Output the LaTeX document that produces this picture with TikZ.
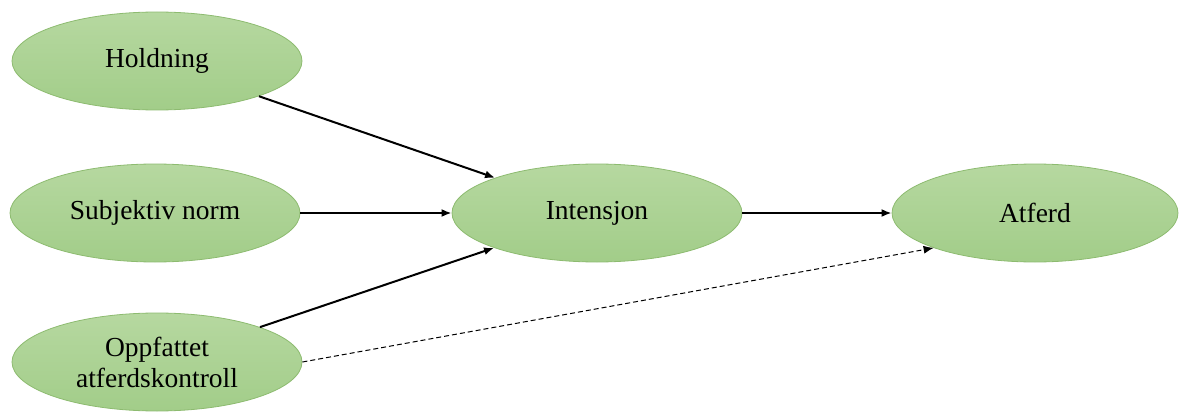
\documentclass[tikz,border=0pt]{standalone}
\usepackage{fontspec}
\setmainfont{Liberation Serif}
\usetikzlibrary{shapes.geometric,arrows.meta}
\definecolor{ovaltop}{HTML}{B6D8A0}
\definecolor{ovalbot}{HTML}{A2CD89}
\definecolor{ovalline}{HTML}{8DBB70}
\begin{document}
\begin{tikzpicture}[x=1pt,y=-1pt,
  oval/.style={ellipse, draw=ovalline, line width=0.8pt, top color=ovaltop, bottom color=ovalbot,
    minimum width=290pt, minimum height=98pt, inner sep=0pt, align=center,
    font=\fontsize{27.5}{31}\selectfont, text=black},
  link/.style={line width=2pt, -{Latex[length=10pt,width=8pt]}},
  weak/.style={line width=1pt, dashed, dash pattern=on 5pt off 3pt, -{Latex[length=10pt,width=8pt]}}]
\useasboundingbox (0,0) rectangle (1179,412);
\node[oval] (h) at (157,61) {Holdning};
\node[oval] (s) at (155,213) {Subjektiv norm};
\node[oval] (o) at (157,362) {Oppfattet\\atferdskontroll};
\node[oval] (i) at (597,213) {Intensjon};
\node[oval, minimum width=286pt] (a) at (1035,213) {Atferd};
\draw[link] (h) -- (i);
\draw[link] (s) -- (i);
\draw[link] (o) -- (i);
\draw[link] (i) -- (a);
\draw[weak] (o.east) -- (a.south west);
\end{tikzpicture}
\end{document}
